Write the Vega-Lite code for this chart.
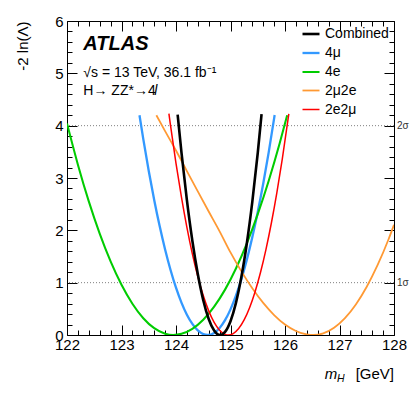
{
  "$schema": "https://vega.github.io/schema/vega-lite/v6.json",
  "width": 327,
  "height": 314,
  "autosize": {"type": "none"},
  "padding": {"left": 67, "top": 21, "right": 21, "bottom": 64},
  "config": {
    "view": {"stroke": "black", "strokeWidth": 1},
    "font": "Liberation Sans",
    "axis": {
      "domain": false,
      "grid": false,
      "tickColor": "black",
      "tickWidth": 1,
      "labelFont": "Liberation Sans",
      "labelFontSize": 15,
      "labelColor": "black",
      "labelFlush": false,
      "labelOverlap": false,
      "titleFont": "Liberation Sans",
      "titleFontWeight": "normal",
      "titleColor": "black"
    }
  },
  "datasets": {
    "curves": [
      {"channel": "4μ", "m": 123.33, "nll": 4.2},
      {"channel": "4μ", "m": 123.4, "nll": 3.742},
      {"channel": "4μ", "m": 123.5, "nll": 3.135},
      {"channel": "4μ", "m": 123.6, "nll": 2.581},
      {"channel": "4μ", "m": 123.7, "nll": 2.081},
      {"channel": "4μ", "m": 123.8, "nll": 1.635},
      {"channel": "4μ", "m": 123.9, "nll": 1.243},
      {"channel": "4μ", "m": 124.0, "nll": 0.904},
      {"channel": "4μ", "m": 124.1, "nll": 0.619},
      {"channel": "4μ", "m": 124.2, "nll": 0.388},
      {"channel": "4μ", "m": 124.3, "nll": 0.211},
      {"channel": "4μ", "m": 124.4, "nll": 0.087},
      {"channel": "4μ", "m": 124.5, "nll": 0.017},
      {"channel": "4μ", "m": 124.58, "nll": 0.0},
      {"channel": "4μ", "m": 124.7, "nll": 0.04},
      {"channel": "4μ", "m": 124.8, "nll": 0.134},
      {"channel": "4μ", "m": 124.9, "nll": 0.284},
      {"channel": "4μ", "m": 125.0, "nll": 0.49},
      {"channel": "4μ", "m": 125.1, "nll": 0.751},
      {"channel": "4μ", "m": 125.2, "nll": 1.068},
      {"channel": "4μ", "m": 125.3, "nll": 1.44},
      {"channel": "4μ", "m": 125.4, "nll": 1.868},
      {"channel": "4μ", "m": 125.5, "nll": 2.351},
      {"channel": "4μ", "m": 125.6, "nll": 2.89},
      {"channel": "4μ", "m": 125.7, "nll": 3.484},
      {"channel": "4μ", "m": 125.81, "nll": 4.203},

      {"channel": "4e", "m": 122.0, "nll": 4.041},
      {"channel": "4e", "m": 122.2, "nll": 3.255},
      {"channel": "4e", "m": 122.4, "nll": 2.553},
      {"channel": "4e", "m": 122.6, "nll": 1.937},
      {"channel": "4e", "m": 122.8, "nll": 1.406},
      {"channel": "4e", "m": 123.0, "nll": 0.959},
      {"channel": "4e", "m": 123.2, "nll": 0.598},
      {"channel": "4e", "m": 123.4, "nll": 0.321},
      {"channel": "4e", "m": 123.6, "nll": 0.13},
      {"channel": "4e", "m": 123.8, "nll": 0.024},
      {"channel": "4e", "m": 123.95, "nll": 0.0},
      {"channel": "4e", "m": 124.1, "nll": 0.022},
      {"channel": "4e", "m": 124.3, "nll": 0.118},
      {"channel": "4e", "m": 124.5, "nll": 0.291},
      {"channel": "4e", "m": 124.7, "nll": 0.541},
      {"channel": "4e", "m": 124.9, "nll": 0.867},
      {"channel": "4e", "m": 125.1, "nll": 1.271},
      {"channel": "4e", "m": 125.3, "nll": 1.752},
      {"channel": "4e", "m": 125.5, "nll": 2.309},
      {"channel": "4e", "m": 125.7, "nll": 2.944},
      {"channel": "4e", "m": 125.9, "nll": 3.655},
      {"channel": "4e", "m": 126.04, "nll": 4.199},

      {"channel": "2μ2e", "m": 123.64, "nll": 4.2},
      {"channel": "2μ2e", "m": 123.8, "nll": 3.896},
      {"channel": "2μ2e", "m": 124.0, "nll": 3.526},
      {"channel": "2μ2e", "m": 124.2, "nll": 3.132},
      {"channel": "2μ2e", "m": 124.4, "nll": 2.743},
      {"channel": "2μ2e", "m": 124.6, "nll": 2.359},
      {"channel": "2μ2e", "m": 124.8, "nll": 1.981},
      {"channel": "2μ2e", "m": 125.0, "nll": 1.578},
      {"channel": "2μ2e", "m": 125.2, "nll": 1.216},
      {"channel": "2μ2e", "m": 125.4, "nll": 0.893},
      {"channel": "2μ2e", "m": 125.6, "nll": 0.613},
      {"channel": "2μ2e", "m": 125.8, "nll": 0.382},
      {"channel": "2μ2e", "m": 126.0, "nll": 0.201},
      {"channel": "2μ2e", "m": 126.2, "nll": 0.077},
      {"channel": "2μ2e", "m": 126.4, "nll": 0.011},
      {"channel": "2μ2e", "m": 126.52, "nll": 0.0},
      {"channel": "2μ2e", "m": 126.7, "nll": 0.031},
      {"channel": "2μ2e", "m": 126.9, "nll": 0.139},
      {"channel": "2μ2e", "m": 127.1, "nll": 0.323},
      {"channel": "2μ2e", "m": 127.3, "nll": 0.585},
      {"channel": "2μ2e", "m": 127.5, "nll": 0.923},
      {"channel": "2μ2e", "m": 127.7, "nll": 1.338},
      {"channel": "2μ2e", "m": 127.9, "nll": 1.83},
      {"channel": "2μ2e", "m": 128.0, "nll": 2.105},

      {"channel": "2e2μ", "m": 123.87, "nll": 4.23},
      {"channel": "2e2μ", "m": 123.9, "nll": 4.0},
      {"channel": "2e2μ", "m": 124.0, "nll": 3.281},
      {"channel": "2e2μ", "m": 124.1, "nll": 2.633},
      {"channel": "2e2μ", "m": 124.2, "nll": 2.056},
      {"channel": "2e2μ", "m": 124.3, "nll": 1.551},
      {"channel": "2e2μ", "m": 124.4, "nll": 1.116},
      {"channel": "2e2μ", "m": 124.5, "nll": 0.753},
      {"channel": "2e2μ", "m": 124.6, "nll": 0.461},
      {"channel": "2e2μ", "m": 124.7, "nll": 0.241},
      {"channel": "2e2μ", "m": 124.8, "nll": 0.091},
      {"channel": "2e2μ", "m": 124.9, "nll": 0.013},
      {"channel": "2e2μ", "m": 124.96, "nll": 0.0},
      {"channel": "2e2μ", "m": 125.05, "nll": 0.028},
      {"channel": "2e2μ", "m": 125.15, "nll": 0.124},
      {"channel": "2e2μ", "m": 125.25, "nll": 0.288},
      {"channel": "2e2μ", "m": 125.35, "nll": 0.522},
      {"channel": "2e2μ", "m": 125.45, "nll": 0.823},
      {"channel": "2e2μ", "m": 125.55, "nll": 1.194},
      {"channel": "2e2μ", "m": 125.65, "nll": 1.633},
      {"channel": "2e2μ", "m": 125.75, "nll": 2.14},
      {"channel": "2e2μ", "m": 125.85, "nll": 2.716},
      {"channel": "2e2μ", "m": 125.95, "nll": 3.361},
      {"channel": "2e2μ", "m": 126.07, "nll": 4.225},

      {"channel": "Combined", "m": 124.03, "nll": 4.21},
      {"channel": "Combined", "m": 124.1, "nll": 3.49},
      {"channel": "Combined", "m": 124.2, "nll": 2.577},
      {"channel": "Combined", "m": 124.3, "nll": 1.801},
      {"channel": "Combined", "m": 124.4, "nll": 1.164},
      {"channel": "Combined", "m": 124.5, "nll": 0.665},
      {"channel": "Combined", "m": 124.6, "nll": 0.305},
      {"channel": "Combined", "m": 124.7, "nll": 0.084},
      {"channel": "Combined", "m": 124.75, "nll": 0.025},
      {"channel": "Combined", "m": 124.81, "nll": 0.0},
      {"channel": "Combined", "m": 124.9, "nll": 0.059},
      {"channel": "Combined", "m": 125.0, "nll": 0.264},
      {"channel": "Combined", "m": 125.1, "nll": 0.614},
      {"channel": "Combined", "m": 125.2, "nll": 1.111},
      {"channel": "Combined", "m": 125.3, "nll": 1.754},
      {"channel": "Combined", "m": 125.4, "nll": 2.543},
      {"channel": "Combined", "m": 125.5, "nll": 3.478},
      {"channel": "Combined", "m": 125.57, "nll": 4.219}
    ],
    "levels": [
      {"level": 1, "label": "1σ"},
      {"level": 4, "label": "2σ"}
    ],
    "one": [{}]
  },
  "layer": [
    {
      "data": {"name": "levels"},
      "mark": {"type": "rule", "color": "#7f7f7f", "strokeDash": [1, 2], "strokeWidth": 1},
      "encoding": {
        "y": {"field": "level", "type": "quantitative", "axis": null}
      }
    },
    {
      "data": {"name": "levels"},
      "mark": {"type": "text", "align": "left", "baseline": "middle", "dx": 3, "fontSize": 10, "color": "#333333"},
      "encoding": {
        "x": {"datum": 128, "type": "quantitative", "axis": null},
        "y": {"field": "level", "type": "quantitative", "axis": null},
        "text": {"field": "label"}
      }
    },
    {
      "data": {"name": "curves"},
      "mark": {"type": "line", "interpolate": "monotone", "clip": true},
      "encoding": {
        "x": {
          "field": "m", "type": "quantitative",
          "scale": {"domain": [122, 128], "nice": false, "zero": false},
          "axis": {
            "orient": "bottom",
            "title": null,
            "values": [122,122.2,122.4,122.6,122.8,123,123.2,123.4,123.6,123.8,124,124.2,124.4,124.6,124.8,125,125.2,125.4,125.6,125.8,126,126.2,126.4,126.6,126.8,127,127.2,127.4,127.6,127.8,128],
            "tickSize": {"condition": {"test": "abs(datum.value - round(datum.value)) < 0.001", "value": -10}, "value": -5},
            "labelExpr": "abs(datum.value - round(datum.value)) < 0.001 ? format(datum.value, 'd') : ''",
            "labelPadding": 12
          }
        },
        "y": {
          "field": "nll", "type": "quantitative",
          "scale": {"domain": [0, 6], "nice": false, "zero": false},
          "axis": {
            "orient": "left",
            "title": "-2 ln(Λ)",
            "titleFontSize": 15,
            "titleAngle": 270,
            "titleAlign": "right",
            "titleBaseline": "alphabetic",
            "titleX": -40,
            "titleY": 0,
            "values": [0,0.2,0.4,0.6,0.8,1,1.2,1.4,1.6,1.8,2,2.2,2.4,2.6,2.8,3,3.2,3.4,3.6,3.8,4,4.2,4.4,4.6,4.8,5,5.2,5.4,5.6,5.8,6],
            "tickSize": {"condition": {"test": "abs(datum.value - round(datum.value)) < 0.001", "value": -10}, "value": -5},
            "labelExpr": "abs(datum.value - round(datum.value)) < 0.001 ? format(datum.value, 'd') : ''",
            "labelPadding": 14
          }
        },
        "color": {
          "field": "channel", "type": "nominal",
          "scale": {"domain": ["Combined", "4μ", "4e", "2μ2e", "2e2μ"], "range": ["#000000", "#3399ff", "#00cc00", "#ff9933", "#ff0000"]},
          "legend": {
            "orient": "none", "legendX": 234, "legendY": 3,
            "title": null, "symbolType": "stroke", "symbolSize": 289,
            "labelFontSize": 14, "labelFont": "Liberation Sans", "labelColor": "black",
            "rowPadding": 2, "labelOffset": 4, "padding": 0
          }
        },
        "strokeWidth": {
          "field": "channel", "type": "nominal",
          "scale": {"domain": ["Combined", "4μ", "4e", "2μ2e", "2e2μ"], "range": [2.6, 1.5, 1.5, 1.5, 1.5]},
          "legend": {
            "orient": "none", "legendX": 234, "legendY": 3,
            "title": null, "symbolType": "stroke", "symbolSize": 289,
            "labelFontSize": 14, "labelFont": "Liberation Sans", "labelColor": "black",
            "rowPadding": 2, "labelOffset": 4, "padding": 0
          }
        }
      }
    },
    {
      "data": {"name": "curves"},
      "mark": {"type": "point", "opacity": 0},
      "encoding": {
        "x": {
          "field": "m", "type": "quantitative",
          "axis": {
            "orient": "top", "title": null, "labels": false,
            "values": [122,122.2,122.4,122.6,122.8,123,123.2,123.4,123.6,123.8,124,124.2,124.4,124.6,124.8,125,125.2,125.4,125.6,125.8,126,126.2,126.4,126.6,126.8,127,127.2,127.4,127.6,127.8,128],
            "tickSize": {"condition": {"test": "abs(datum.value - round(datum.value)) < 0.001", "value": -10}, "value": -5}
          }
        },
        "y": {
          "field": "nll", "type": "quantitative",
          "axis": {
            "orient": "right", "title": null, "labels": false,
            "values": [0,0.2,0.4,0.6,0.8,1,1.2,1.4,1.6,1.8,2,2.2,2.4,2.6,2.8,3,3.2,3.4,3.6,3.8,4,4.2,4.4,4.6,4.8,5,5.2,5.4,5.6,5.8,6],
            "tickSize": {"condition": {"test": "abs(datum.value - round(datum.value)) < 0.001", "value": -10}, "value": -5}
          }
        }
      }
    },
    {
      "data": {"name": "one"},
      "mark": {"type": "text", "text": "ATLAS", "align": "left", "baseline": "alphabetic", "fontSize": 20, "fontWeight": "bold", "fontStyle": "italic", "font": "Liberation Sans", "color": "black"},
      "encoding": {
        "x": {"datum": 122.3, "type": "quantitative", "axis": null},
        "y": {"datum": 5.44, "type": "quantitative", "axis": null}
      }
    },
    {
      "data": {"name": "one"},
      "mark": {"type": "text", "text": "√s = 13 TeV, 36.1 fb⁻¹", "align": "left", "baseline": "alphabetic", "fontSize": 14, "font": "Liberation Sans", "color": "black"},
      "encoding": {
        "x": {"datum": 122.3, "type": "quantitative", "axis": null},
        "y": {"datum": 4.93, "type": "quantitative", "axis": null}
      }
    },
    {
      "data": {"name": "one"},
      "mark": {"type": "text", "text": "H→ ZZ*→4", "align": "left", "baseline": "alphabetic", "fontSize": 14, "font": "Liberation Sans", "color": "black"},
      "encoding": {
        "x": {"datum": 122.3, "type": "quantitative", "axis": null},
        "y": {"datum": 4.59, "type": "quantitative", "axis": null}
      }
    },
    {
      "data": {"name": "one"},
      "mark": {"type": "text", "text": "l", "align": "left", "baseline": "alphabetic", "fontSize": 14, "fontStyle": "italic", "font": "Liberation Sans", "color": "black"},
      "encoding": {
        "x": {"datum": 123.6, "type": "quantitative", "axis": null},
        "y": {"datum": 4.59, "type": "quantitative", "axis": null}
      }
    },
    {
      "data": {"name": "one"},
      "mark": {"type": "text", "text": "[GeV]", "align": "right", "baseline": "alphabetic", "fontSize": 15, "font": "Liberation Sans", "color": "black"},
      "encoding": {
        "x": {"datum": 128, "type": "quantitative", "axis": null},
        "y": {"datum": -0.847, "type": "quantitative", "axis": null}
      }
    },
    {
      "data": {"name": "one"},
      "mark": {"type": "text", "text": "m", "align": "left", "baseline": "alphabetic", "fontSize": 15, "fontStyle": "italic", "font": "Liberation Sans", "color": "black"},
      "encoding": {
        "x": {"datum": 126.73, "type": "quantitative", "axis": null},
        "y": {"datum": -0.847, "type": "quantitative", "axis": null}
      }
    },
    {
      "data": {"name": "one"},
      "mark": {"type": "text", "text": "H", "align": "left", "baseline": "alphabetic", "fontSize": 10.5, "fontStyle": "italic", "font": "Liberation Sans", "color": "black"},
      "encoding": {
        "x": {"datum": 126.955, "type": "quantitative", "axis": null},
        "y": {"datum": -0.9, "type": "quantitative", "axis": null}
      }
    }
  ],
  "resolve": {"axis": {"x": "independent", "y": "independent"}}
}
